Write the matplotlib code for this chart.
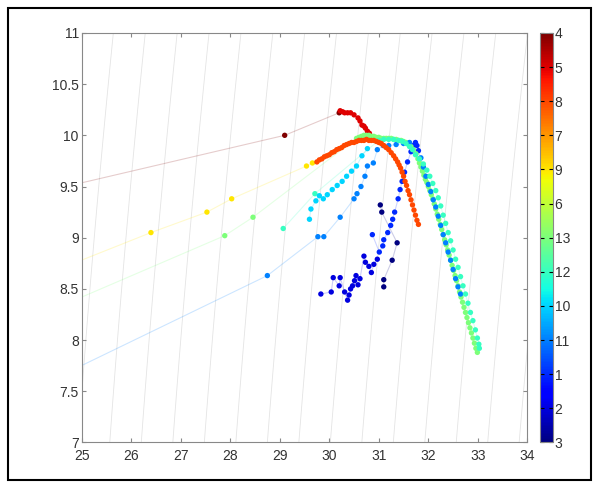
import numpy as np
import matplotlib
matplotlib.use("Agg")
import matplotlib.pyplot as plt
from matplotlib.colors import Normalize
from matplotlib.patches import Rectangle

plt.rcParams["font.family"] = ["Liberation Sans", "DejaVu Sans"]

# colorbar labels, bottom to top (colour index 1..13)
cbar_labels = ["3", "2", "1", "11", "10", "12", "13", "6", "9", "7", "8", "5", "4"]

# profiles: salinity / temperature readings (first point of some lies off the left edge)
s_p4 = [23.8, 29.1, 30.2]
t_p4 = [9.40, 10.0, 10.22]

s_p5 = [30.22, 30.27, 30.31, 30.37, 30.43, 30.5, 30.58, 30.62, 30.66, 30.7, 30.73,
        30.77, 30.81, 30.85, 30.9]
t_p5 = [10.24, 10.23, 10.22, 10.22, 10.22, 10.2, 10.17, 10.14, 10.1, 10.09, 10.07,
        10.04, 10.02, 9.99, 9.96]

s_p9 = [23.8, 26.4, 27.53, 28.03, 29.54, 29.66]
t_p9 = [8.55, 9.05, 9.25, 9.38, 9.70, 9.73]

s_p8 = [29.75, 29.8, 29.85, 29.9, 29.95, 30.0, 30.05, 30.1, 30.15, 30.2, 30.25, 30.3,
        30.35, 30.4, 30.45, 30.5, 30.55, 30.6, 30.65, 30.7, 30.75, 30.8, 30.85, 30.9,
        30.95, 31.0, 31.05, 31.1, 31.15, 31.2, 31.25, 31.3, 31.34, 31.38, 31.41, 31.44,
        31.47, 31.5, 31.53, 31.56, 31.59, 31.62, 31.65, 31.68, 31.71, 31.74, 31.77, 31.8]
t_p8 = [9.74, 9.76, 9.77, 9.79, 9.80, 9.81, 9.83, 9.84, 9.86, 9.87, 9.88, 9.90,
        9.91, 9.92, 9.93, 9.93, 9.94, 9.95, 9.95, 9.95, 9.96, 9.95, 9.95, 9.95,
        9.94, 9.93, 9.92, 9.90, 9.88, 9.86, 9.83, 9.80, 9.77, 9.74, 9.71, 9.68,
        9.64, 9.60, 9.55, 9.51, 9.46, 9.42, 9.37, 9.32, 9.27, 9.22, 9.17, 9.13]

s_p13 = [23.8, 27.89, 28.46,
         30.55, 30.6, 30.65, 30.7, 30.75, 30.8, 30.85, 30.9, 30.95, 31.0, 31.05, 31.1,
         31.15, 31.2, 31.25, 31.3, 31.35, 31.4, 31.45, 31.5, 31.55, 31.6, 31.65, 31.7, 31.75,
         31.79, 31.82, 31.85, 31.88, 31.91, 31.94, 31.97, 32.0, 32.03, 32.06, 32.09, 32.12,
         32.15, 32.18, 32.21, 32.24, 32.27, 32.3, 32.33, 32.36, 32.39, 32.42, 32.45, 32.48,
         32.51, 32.54, 32.57, 32.6, 32.63, 32.66, 32.69, 32.72, 32.75, 32.78, 32.81, 32.84,
         32.87, 32.9, 32.93, 32.96, 32.99]
t_p13 = [8.17, 9.02, 9.20,
         9.97, 9.98, 9.99, 10.0, 10.0, 10.0, 9.99, 9.99, 9.98, 9.98, 9.97, 9.97,
         9.97, 9.97, 9.97, 9.96, 9.96, 9.95, 9.95, 9.94, 9.93, 9.91, 9.89, 9.86, 9.82,
         9.77, 9.73, 9.69, 9.65, 9.61, 9.57, 9.54, 9.50, 9.46, 9.42, 9.38, 9.33,
         9.28, 9.23, 9.18, 9.13, 9.08, 9.03, 8.98, 8.93, 8.88, 8.83, 8.78, 8.73,
         8.68, 8.63, 8.58, 8.53, 8.47, 8.42, 8.37, 8.32, 8.27, 8.22, 8.17, 8.12,
         8.07, 8.02, 7.97, 7.92, 7.88]

s_p12 = [29.07, 29.71, 31.0, 31.1, 31.2, 31.3, 31.4, 31.48, 31.55, 31.62, 31.68, 31.74,
         31.82, 31.9, 31.97, 32.03, 32.09, 32.15, 32.2, 32.25, 32.3, 32.35, 32.4, 32.45,
         32.5, 32.55, 32.6, 32.65, 32.7, 32.75, 32.8, 32.85, 32.9, 32.95, 32.99, 33.02, 33.03]
t_p12 = [9.09, 9.43, 9.95, 9.96, 9.96, 9.96, 9.95, 9.94, 9.92, 9.89, 9.86, 9.81,
         9.77, 9.72, 9.66, 9.60, 9.53, 9.46, 9.39, 9.31, 9.22, 9.14, 9.05, 8.97,
         8.88, 8.79, 8.71, 8.62, 8.53, 8.45, 8.36, 8.27, 8.19, 8.10, 8.02, 7.96, 7.92]

s_p10 = [29.6, 29.63, 29.73, 29.8, 29.88, 29.96, 30.06, 30.16, 30.26, 30.35, 30.45,
         30.55, 30.66, 30.77]
t_p10 = [9.18, 9.28, 9.36, 9.41, 9.38, 9.42, 9.47, 9.51, 9.55, 9.60, 9.65,
         9.70, 9.80, 9.87]

s_p11 = [23.8, 28.75, 29.77, 29.89, 30.22, 30.5, 30.56, 30.64, 30.72, 30.77, 30.89, 30.97,
         31.09, 31.2, 31.35, 31.5, 31.62, 31.85, 31.9, 31.95, 32.0, 32.05, 32.1, 32.15,
         32.2, 32.25, 32.3, 32.35, 32.4, 32.45, 32.5, 32.55, 32.6, 32.65]
t_p11 = [7.47, 8.63, 9.01, 9.01, 9.20, 9.38, 9.43, 9.50, 9.60, 9.70, 9.73, 9.86,
         9.90, 9.90, 9.91, 9.92, 9.93, 9.78, 9.69, 9.60, 9.52, 9.45, 9.37, 9.30,
         9.21, 9.12, 9.03, 8.95, 8.86, 8.78, 8.69, 8.60, 8.52, 8.45]

s_p1 = [30.87, 31.01, 31.08, 31.1, 31.18, 31.24, 31.28, 31.32, 31.39, 31.43, 31.47,
        31.52, 31.58, 31.65, 31.7, 31.74, 31.77, 31.8]
t_p1 = [9.03, 8.86, 8.92, 8.98, 9.05, 9.12, 9.18, 9.25, 9.38, 9.47, 9.55,
        9.64, 9.74, 9.84, 9.90, 9.93, 9.90, 9.85]

s_p2 = [29.83, 30.04, 30.08, 30.2, 30.22, 30.31, 30.37, 30.4, 30.43, 30.47, 30.51, 30.54,
        30.58, 30.62, 30.7, 30.73, 30.8, 30.85, 30.9, 30.97]
t_p2 = [8.45, 8.47, 8.61, 8.53, 8.61, 8.47, 8.39, 8.44, 8.50, 8.53, 8.58, 8.63,
        8.54, 8.60, 8.82, 8.76, 8.72, 8.66, 8.74, 8.79]

s_p3 = [31.03, 31.06, 31.37, 31.27, 31.1, 31.1]
t_p3 = [9.32, 9.25, 8.95, 8.78, 8.59, 8.52]

# drawing order (later ones lie on top)
profiles = [
    ("4", s_p4, t_p4), ("5", s_p5, t_p5), ("9", s_p9, t_p9), ("1", s_p1, t_p1),
    ("13", s_p13, t_p13), ("11", s_p11, t_p11), ("12", s_p12, t_p12),
    ("10", s_p10, t_p10), ("8", s_p8, t_p8), ("2", s_p2, t_p2), ("3", s_p3, t_p3),
]

x_ticks = [25, 26, 27, 28, 29, 30, 31, 32, 33, 34]
y_ticks = [7, 7.5, 8, 8.5, 9, 9.5, 10, 10.5, 11]
y_ticklabels = ["7", "7.5", "8", "8.5", "9", "9.5", "10", "10.5", "11"]


def sigma_t(S, T):
    # UNESCO EOS-80 at surface pressure, minus 1000
    rw = (999.842594 + 6.793952e-2 * T - 9.095290e-3 * T**2 + 1.001685e-4 * T**3
          - 1.120083e-6 * T**4 + 6.536332e-9 * T**5)
    a = 0.824493 - 4.0899e-3 * T + 7.6438e-5 * T**2 - 8.2467e-7 * T**3 + 5.3875e-9 * T**4
    b = -5.72466e-3 + 1.0227e-4 * T - 1.6546e-6 * T**2
    return rw + a * S + b * S**1.5 + 4.8314e-4 * S**2 - 1000.0


fig = plt.figure(figsize=(6, 4.87), dpi=100)
ax = fig.add_axes([0.136, 0.0914, 0.743, 0.841])

cmap = plt.get_cmap("jet")
norm = Normalize(1, 13)

# density contours
sg, tg = np.meshgrid(np.linspace(24, 35, 200), np.linspace(6.5, 11.5, 200))
ax.contour(sg, tg, sigma_t(sg, tg), levels=np.arange(17, 28.01, 0.5),
           colors="#e4e4e4", linewidths=0.6, zorder=0)

for label, s, t in profiles:
    idx = cbar_labels.index(label) + 1
    col = cmap(norm(idx))
    ax.plot(s, t, color=col, alpha=0.2, lw=0.8, zorder=1)
    ax.scatter(s, t, c=[idx] * len(s), cmap=cmap, norm=norm, s=15, lw=0, zorder=2)

ax.set_xlim(25, 34)
ax.set_ylim(7, 11)
ax.set_xticks(x_ticks)
ax.set_yticks(y_ticks)
ax.set_yticklabels(y_ticklabels)
ax.tick_params(direction="in", top=True, right=True, length=3, labelsize=10,
               labelcolor="#333333", color="#888888", pad=2)
ax.tick_params(axis="x", pad=5)
for sp in ax.spines.values():
    sp.set_color("#888888")
    sp.set_linewidth(0.8)

cax = fig.add_axes([0.9, 0.0914, 0.022, 0.841])
sm = plt.cm.ScalarMappable(norm=norm, cmap=cmap)
cb = fig.colorbar(sm, cax=cax)
cb.set_ticks(range(1, 14))
cb.set_ticklabels(cbar_labels)
cb.ax.tick_params(direction="in", left=True, right=True, length=3, labelsize=10,
                  labelcolor="#333333", pad=1)
cb.outline.set_edgecolor("#888888")

fig.patches.append(Rectangle((0.013, 0.014), 0.972, 0.97, transform=fig.transFigure,
                             fill=False, ec="black", lw=1.5))

fig.savefig("out.png", dpi=100)
